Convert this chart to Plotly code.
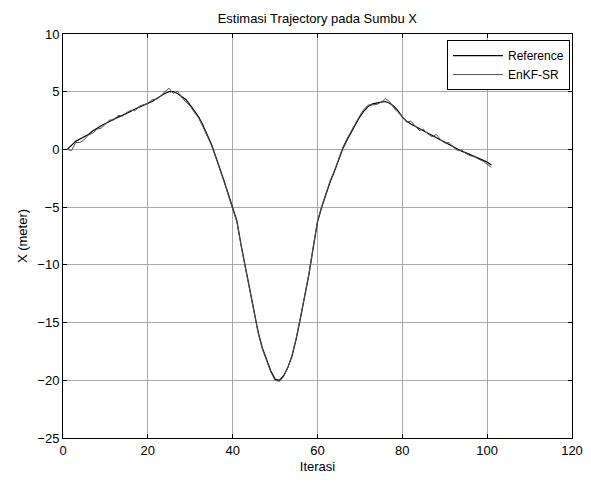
import plotly.graph_objects as go

# iteration index
iterasi = list(range(1, 102))

# reference trajectory on X axis (meter)
x_reference = [
    0.0, 0.35, 0.7, 0.9, 1.1, 1.3, 1.6, 1.85, 2.05, 2.25,
    2.45, 2.65, 2.8, 2.95, 3.1, 3.3, 3.5, 3.65, 3.8, 3.95,
    4.15, 4.4, 4.65, 4.85, 5.0, 5.0, 4.85, 4.6, 4.3, 3.85,
    3.35, 2.8, 2.1, 1.3, 0.45, -0.6, -1.6, -2.75, -3.9, -5.0,
    -6.2, -8.3, -10.2, -12.1, -14.0, -15.8, -17.2, -18.3, -19.2, -19.9,
    -20.0, -19.6, -18.9, -17.9, -16.4, -14.6, -12.8, -10.8, -8.5, -6.3,
    -5.0, -3.8, -2.8, -1.9, -0.9, 0.1, 0.85, 1.5, 2.25, 2.85,
    3.35, 3.75, 3.95, 4.05, 4.1, 4.15, 4.0, 3.75, 3.35, 2.8,
    2.45, 2.2, 2.0, 1.8, 1.6, 1.4, 1.2, 1.0, 0.8, 0.6,
    0.4, 0.2, 0.0, -0.15, -0.3, -0.45, -0.6, -0.75, -0.9, -1.1,
    -1.35,
]

# EnKF-SR estimate
x_enkf = [
    0.0, -0.1, 0.6, 0.6, 0.85, 1.25, 1.4, 1.75, 1.85, 2.2,
    2.55, 2.55, 2.95, 2.9, 3.2, 3.4, 3.35, 3.75, 3.85, 4.0,
    4.3, 4.35, 4.6, 5.0, 5.3, 4.85, 5.05, 4.5, 4.1, 3.75,
    3.2, 2.7, 1.95, 1.2, 0.35, -0.7, -1.7, -2.85, -4.0, -5.1,
    -6.3, -8.4, -10.3, -12.2, -14.1, -15.9, -17.3, -18.4, -19.3, -20.0,
    -20.1, -19.7, -18.9, -17.8, -16.3, -14.5, -12.7, -10.7, -8.4, -6.2,
    -4.9, -3.7, -2.7, -1.8, -0.8, 0.2, 0.95, 1.6, 2.35, 2.95,
    3.5, 3.85, 3.85, 3.9, 4.1, 4.4, 4.15, 3.6, 3.2, 2.85,
    2.35, 2.45, 2.05, 1.65, 1.75, 1.35, 1.1, 1.3, 0.85, 0.55,
    0.6, 0.2, -0.1, -0.05, -0.35, -0.55, -0.6, -0.85, -1.0, -1.3,
    -1.55,
]

font = "Liberation Sans, Arial, sans-serif"

fig = go.Figure()
fig.add_trace(go.Scatter(x=iterasi, y=x_reference, mode="lines", name="Reference",
                         line=dict(color="#000000", width=1.2)))
fig.add_trace(go.Scatter(x=iterasi, y=x_enkf, mode="lines", name="EnKF-SR",
                         line=dict(color="#555555", width=1)))

axis_style = dict(showline=True, linecolor="black", linewidth=1, mirror="ticks",
                  ticks="inside", ticklen=4, tickcolor="black",
                  showgrid=True, gridcolor="#a8a8a8", gridwidth=1,
                  zeroline=False, automargin=False,
                  tickfont=dict(size=13, color="black"))

fig.update_xaxes(range=[0, 120], tickvals=[0, 20, 40, 60, 80, 100, 120],
                 title=dict(text="Iterasi", font=dict(size=13, color="black"), standoff=6),
                 **axis_style)
fig.update_yaxes(range=[-25, 10], tickvals=[-25, -20, -15, -10, -5, 0, 5, 10],
                 title=dict(text="X (meter)", font=dict(size=13, color="black"), standoff=6),
                 **axis_style)

# page body adds an 8 px offset, so the figure is sized to fit the window
fig.update_layout(
    width=575, height=466,
    margin=dict(l=55, r=11, t=26, b=36),
    paper_bgcolor="white", plot_bgcolor="white",
    font=dict(family=font, size=13, color="black"),
    title=dict(text="Estimasi Trajectory pada Sumbu X", x=0.538, xanchor="center",
               y=0.988, yanchor="top", font=dict(size=13, color="black")),
    legend=dict(x=0.996, y=0.985, xanchor="right", yanchor="top",
                bgcolor="white", bordercolor="black", borderwidth=1,
                font=dict(size=12), tracegroupgap=0, itemwidth=50),
    showlegend=True,
)

fig.write_html("out.html")
